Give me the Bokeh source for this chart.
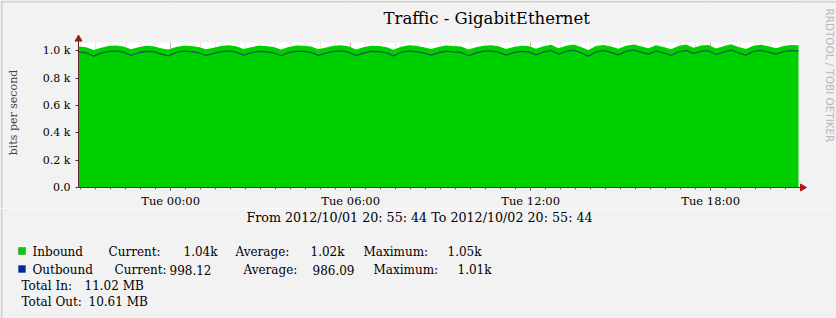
import datetime as dt
import math
from bokeh.plotting import figure
from bokeh.layouts import column
from bokeh.models import Label, FixedTicker, BoxAnnotation
from bokeh.embed import file_html
from bokeh.resources import INLINE

# ---------------- data ----------------
start = dt.datetime(2012, 10, 1, 20, 55, 44)
end = dt.datetime(2012, 10, 2, 20, 55, 44)
step_minutes = 15

inbound = [1030, 1025, 1005, 1022, 1034, 1038, 1030, 1010, 1026, 1036, 1033, 1018,
           1008, 1028, 1037, 1035, 1027, 1010, 1022, 1035, 1040, 1032, 1012, 1026,
           1036, 1034, 1027, 1008, 1028, 1038, 1036, 1030, 1011, 1024, 1036, 1040,
           1032, 1009, 1025, 1037, 1034, 1028, 1007, 1029, 1039, 1036, 1026, 1012,
           1027, 1038, 1034, 1030, 1008, 1026, 1037, 1040, 1032, 1013, 1028, 1036,
           1034, 1015, 1032, 1044, 1018, 1037, 1046, 1028, 1006, 1034, 1042, 1030,
           1014, 1037, 1045, 1032, 1018, 1040, 1028, 1010, 1035, 1045, 1022, 1038,
           1042, 1016, 1032, 1047, 1028, 1012, 1037, 1044, 1032, 1018, 1035, 1042, 1040]

outbound = [992, 985, 960, 982, 995, 998, 990, 966, 985, 996, 993, 975,
            962, 988, 997, 994, 985, 965, 980, 994, 998, 990, 968, 984,
            996, 992, 985, 963, 986, 997, 995, 988, 966, 982, 995, 999,
            990, 964, 983, 996, 993, 986, 962, 987, 998, 994, 984, 967,
            985, 997, 992, 988, 963, 984, 996, 999, 990, 968, 986, 995,
            992, 970, 990, 1002, 975, 995, 1005, 985, 960, 992, 1000, 988,
            970, 995, 1004, 990, 975, 998, 985, 965, 992, 1003, 980, 996,
            1000, 972, 990, 1005, 985, 968, 995, 1002, 990, 975, 993, 1000, 998]

y_ticks = [0, 200, 400, 600, 800, 1000]
y_tick_labels = ["0.0", "0.2 k", "0.4 k", "0.6 k", "0.8 k", "1.0 k"]
y_canvas_top = 1060

x_tick_times = [dt.datetime(2012, 10, 2, 0), dt.datetime(2012, 10, 2, 6),
                dt.datetime(2012, 10, 2, 12), dt.datetime(2012, 10, 2, 18)]
x_tick_labels = ["Tue 00:00", "Tue 06:00", "Tue 12:00", "Tue 18:00"]

title_text = "Traffic - GigabitEthernet"
y_label_text = "bits per second"
footer_text = "From 2012/10/01 20: 55: 44 To 2012/10/02 20: 55: 44"
watermark_text = "RRDTOOL / TOBI OETIKER"

series_names = ["Inbound", "Outbound"]
series_colors = ["#00CF00", "#002A97"]
stat_names = ["Current:", "Average:", "Maximum:"]
inbound_stats = ["1.04k", "1.02k", "1.05k"]
outbound_stats = ["998.12", "986.09", "1.01k"]
total_names = ["Total In:", "Total Out:"]
total_values = ["11.02 MB", "10.61 MB"]

# ---------------- layout constants ----------------
EPOCH = dt.datetime(1970, 1, 1)
def ms(d):
    return (d - EPOCH).total_seconds() * 1000.0

times = [start + dt.timedelta(minutes=step_minutes * i) for i in range(len(inbound))]

W = 836
MAIN_H = 208
LEG_H = 318 - MAIN_H
AX_X, AX_Y = 78, 187      # canvas px of the y axis and of the x axis
CANVAS_R, CANVAS_T = 798, 42
BG = "#F2F2F2"
EDGE = "#D0D0D0"
FONT = "DejaVu Serif"
AXIS_COL = "#5A2A2A"
ARROW_COL = "#B01818"
MINUTE = 60 * 1000

px_per_ms = (CANVAS_R - AX_X) / (ms(end) - ms(start))
x_min = ms(start) - AX_X / px_per_ms
x_max = ms(end) + (W - CANVAS_R) / px_per_ms
px_per_unit = (AX_Y - CANVAS_T) / y_canvas_top
y_max = AX_Y / px_per_unit
y_min = -(MAIN_H - AX_Y) / px_per_unit

p = figure(width=W, height=MAIN_H, x_axis_type="datetime",
           x_range=(x_min, x_max), y_range=(y_min, y_max),
           output_backend="svg", toolbar_location=None, min_border=0)
p.background_fill_color = "white"
p.border_fill_color = BG
p.outline_line_color = None

# ticks and grids
minor_x = []
t = dt.datetime(2012, 10, 1, 21, 0)
while t < end:
    minor_x.append(ms(t))
    t += dt.timedelta(minutes=30)
p.xaxis.ticker = FixedTicker(ticks=[ms(d) for d in x_tick_times], minor_ticks=minor_x)
p.xaxis.major_label_overrides = {ms(d): lab for d, lab in zip(x_tick_times, x_tick_labels)}
p.yaxis.ticker = FixedTicker(ticks=y_ticks, minor_ticks=list(range(0, 1100, 100)))
p.yaxis.major_label_overrides = {v: lab for v, lab in zip(y_ticks, y_tick_labels)}
p.yaxis.fixed_location = ms(start)
p.xaxis.fixed_location = 0

p.xgrid.grid_line_color = "#D9A8A8"
p.xgrid.minor_grid_line_color = "#E8CACA"
p.xgrid.minor_grid_line_dash = "1 1"
p.ygrid.grid_line_color = "#D9A8A8"
p.ygrid.minor_grid_line_color = "#E8CACA"
p.ygrid.minor_grid_line_dash = "1 1"
p.xgrid.bounds = (ms(start), ms(end))

for ax in (p.xaxis, p.yaxis):
    ax.axis_line_color = AXIS_COL
    ax.major_tick_line_color = AXIS_COL
    ax.minor_tick_line_color = "#8A5A5A"
    ax.major_tick_in = 0
    ax.minor_tick_in = 0
    ax.major_label_text_font = FONT
    ax.major_label_text_color = "#000000"
p.xaxis.bounds = (ms(start), ms(end) + 10 * MINUTE)
p.yaxis.bounds = (0, 1100)
p.xaxis.major_tick_out = 3
p.xaxis.minor_tick_out = 2
p.xaxis.major_label_standoff = 3
p.xaxis.major_label_text_font_size = "11.5px"
p.yaxis.major_tick_out = 3
p.yaxis.minor_tick_out = 0
p.yaxis.major_label_standoff = 5
p.yaxis.major_label_text_font_size = "11px"
p.yaxis.axis_label = y_label_text
p.yaxis.axis_label_text_font = FONT
p.yaxis.axis_label_text_font_style = "normal"
p.yaxis.axis_label_text_font_size = "11px"
p.yaxis.axis_label_standoff = 20

# gray surround of the white canvas (inside the frame, under the data)
for kw in (dict(bottom=y_canvas_top), dict(left=ms(end)), dict(right=ms(start)), dict(top=0)):
    p.add_layout(BoxAnnotation(fill_color=BG, fill_alpha=1, line_color=None,
                               level="underlay", **kw))

# data
p.varea(x=times, y1=0, y2=inbound, fill_color=series_colors[0])
p.line(x=times, y=outbound, line_color="#155E45", line_width=1.3)

# axis arrow heads
p.scatter(x=[ms(start)], y=[1085], marker="triangle", size=7,
          fill_color=ARROW_COL, line_color=ARROW_COL)
p.scatter(x=[ms(end) + 8 * MINUTE], y=[0], marker="triangle", angle=-math.pi / 2,
          size=7, fill_color=ARROW_COL, line_color=ARROW_COL)

def flabel(fig, fig_h, fig_top, text, cx, cy, size, align="left", angle=0.0,
           color="#000000", font=FONT):
    # place a label at canvas pixel (cx, cy); each frame covers its whole figure
    fig.add_layout(Label(x=cx, y=fig_h - (cy - fig_top),
                         x_units="screen", y_units="screen",
                         text=text, text_font=font, text_font_size=size,
                         text_align=align, text_baseline="middle",
                         angle=angle, text_color=color))

flabel(p, MAIN_H, 0, title_text, 383, 18, "16.5px")
flabel(p, MAIN_H, 0, watermark_text, 829, 8, "10.4px", angle=-math.pi / 2,
       color="#B8B8B8", font="DejaVu Sans")

# thin shaded edge of the image
p.add_layout(BoxAnnotation(bottom=MAIN_H - 2, bottom_units="screen",
                           fill_color=EDGE, fill_alpha=1, line_color=None))
p.add_layout(BoxAnnotation(left=0, right=2, left_units="screen", right_units="screen",
                           fill_color=EDGE, fill_alpha=1, line_color=None))

# ---------------- footer + legend ----------------
leg = figure(width=W, height=LEG_H, x_range=(0, W), y_range=(0, LEG_H),
             output_backend="svg", toolbar_location=None,
             x_axis_location=None, y_axis_location=None,
             min_border=0)
leg.background_fill_color = BG
leg.border_fill_color = BG
leg.outline_line_color = None
leg.grid.visible = False
leg.add_layout(BoxAnnotation(left=0, right=2, left_units="screen", right_units="screen",
                             fill_color=EDGE, fill_alpha=1, line_color=None))

def llabel(text, cx, cy, size="12px", align="left"):
    flabel(leg, LEG_H, MAIN_H, text, cx, cy, size, align=align)

llabel(footer_text, 419, 217, size="12.7px", align="center")

row_y = [251, 269]
stat_x = [[108, 183, 235, 310, 363, 447], [114, 169, 243, 312, 373, 457]]
stats = [inbound_stats, outbound_stats]
for r in range(2):
    cy = row_y[r]
    leg.add_layout(BoxAnnotation(left=18, right=25,
                                 top=LEG_H - (cy - 4 - MAIN_H), bottom=LEG_H - (cy + 3 - MAIN_H),
                                 left_units="screen", right_units="screen",
                                 top_units="screen", bottom_units="screen",
                                 fill_color=series_colors[r], fill_alpha=1,
                                 line_color="#1A3A1A" if r == 0 else "#001A60", line_width=1))
    llabel(series_names[r], 32, cy)
    for k in range(3):
        llabel(stat_names[k], stat_x[r][2 * k], cy)
        llabel(stats[r][k], stat_x[r][2 * k + 1], cy)

tot_y = [285, 301]
for r in range(2):
    llabel(total_names[r], 21, tot_y[r])
    llabel(total_values[r], 84 if r == 0 else 88, tot_y[r])

open("out.html", "w").write(file_html(column(p, leg, spacing=0), INLINE))
